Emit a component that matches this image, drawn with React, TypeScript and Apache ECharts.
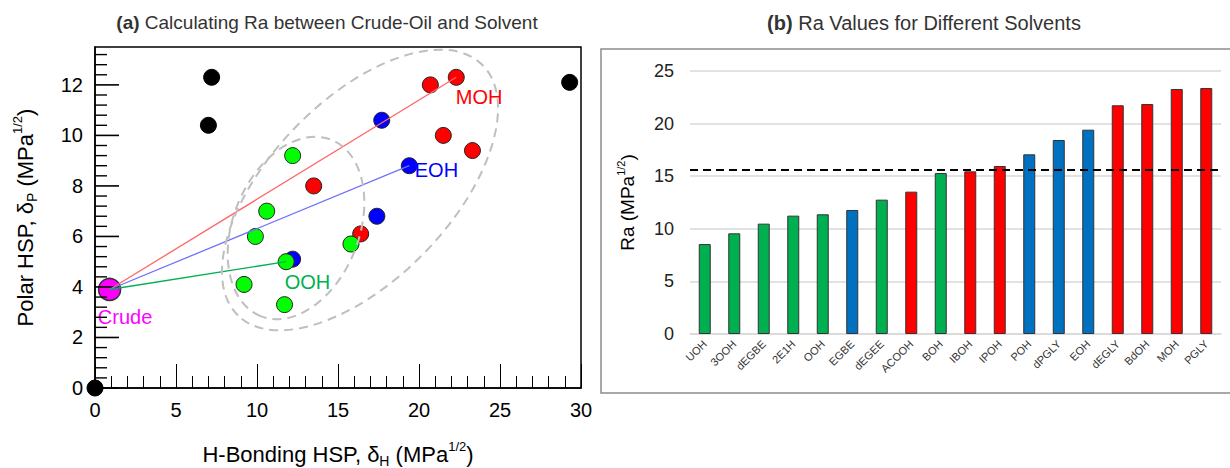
import React, { useEffect, useRef } from "react";
import * as echarts from "echarts";

// ---------- Data: panel (a) ----------
const crudePoint: number[] = [0.9, 3.9];
const blackPoints: number[][] = [[0, 0], [7.2, 12.3], [7.0, 10.4], [29.3, 12.1]];
const redPoints: number[][] = [[20.7, 12.0], [22.3, 12.3], [21.5, 10.0], [23.3, 9.4], [13.5, 8.0], [16.4, 6.1]];
const bluePoints: number[][] = [[17.7, 10.6], [19.4, 8.8], [17.4, 6.8], [12.2, 5.1]];
const greenPoints: number[][] = [[12.2, 9.2], [10.6, 7.0], [9.9, 6.0], [11.8, 5.0], [9.2, 4.1], [11.7, 3.3], [15.8, 5.7]];
const mohIndex = 1; // in redPoints
const eohIndex = 1; // in bluePoints
const oohIndex = 3; // in greenPoints
const polarMax = 13.5;
const polarMajorTicks: number[] = [0, 2, 4, 6, 8, 10, 12];
const polarMinorStep = 0.4;

// ---------- Data: panel (b) ----------
const solvents: string[] = ["UOH", "3OOH", "dEGBE", "2E1H", "OOH", "EGBE", "dEGEE", "ACOOH", "BOH", "IBOH", "IPOH", "POH", "dPGLY", "EOH", "dEGLY", "BdOH", "MOH", "PGLY"];
const raValues: number[] = [8.55, 9.57, 10.49, 11.25, 11.38, 11.79, 12.77, 13.53, 15.3, 15.46, 15.97, 17.08, 18.44, 19.42, 21.74, 21.86, 23.29, 23.38];
const solventGroup: string[] = ["G", "G", "G", "G", "G", "B", "G", "R", "G", "R", "R", "B", "B", "B", "R", "R", "R", "R"];
const raThreshold = 15.6;

const FONT = "Liberation Sans, Arial, Helvetica, sans-serif";
const groupColor: Record<string, string> = { G: "#00b050", B: "#0070c0", R: "#ff0000" };

export default function App() {
  const ref = useRef<HTMLDivElement>(null);
  useEffect(() => {
    if (!ref.current) return;
    const chart = echarts.init(ref.current, undefined, { renderer: "svg" });

    const pointLabel = (text: string, color: string, pos: number[]) => ({
      show: true,
      formatter: text,
      position: pos,
      color,
      fontSize: 20,
      fontFamily: FONT,
      align: "left",
      verticalAlign: "top",
    });

    const redData = redPoints.map((p, i) =>
      i === mohIndex ? { value: p, label: pointLabel("MOH", "#ff0000", [8, 18]) } : { value: p }
    );
    const blueData = bluePoints.map((p, i) =>
      i === eohIndex ? { value: p, label: pointLabel("EOH", "#0000ff", [14, 3]) } : { value: p }
    );
    const greenData = greenPoints.map((p, i) =>
      i === oohIndex ? { value: p, label: pointLabel("OOH", "#00b050", [7, 19]) } : { value: p }
    );

    // tick marks of the polar axis, positioned by the y axis scale
    const majorTickData: number[][] = polarMajorTicks.map((v) => [0, v]);
    const minorTickData: number[][] = [];
    const nMinor = Math.floor(polarMax / polarMinorStep + 1e-9);
    for (let k = 1; k <= nMinor; k++) {
      const v = Math.round(k * polarMinorStep * 10) / 10;
      if (!polarMajorTicks.includes(v)) minorTickData.push([0, v]);
    }

    const subSupRich = (size: number) => ({
      t: { fontSize: size, fontFamily: FONT, color: "#000", lineHeight: size + 6 },
      sub: { fontSize: Math.round(size * 0.62), fontFamily: FONT, color: "#000", verticalAlign: "bottom", lineHeight: size + 6 },
      sup: { fontSize: Math.round(size * 0.6), fontFamily: FONT, color: "#000", verticalAlign: "top", lineHeight: size + 6 },
    });

    const scatterBase = {
      type: "scatter",
      xAxisIndex: 0,
      yAxisIndex: 0,
      symbolSize: 16,
      clip: false,
      label: { show: false },
    };

    chart.setOption({
      animation: false,
      textStyle: { fontFamily: FONT },
      title: [
        {
          text: "{b|(a)} Calculating Ra between Crude-Oil and Solvent",
          left: 322,
          top: 8,
          textAlign: "center",
          textStyle: {
            fontSize: 19,
            fontWeight: "normal",
            color: "#333",
            fontFamily: FONT,
            rich: { b: { fontSize: 19, fontWeight: "bold", color: "#333", fontFamily: FONT } },
          },
        },
        {
          text: "{b|(b)} Ra Values for Different Solvents",
          left: 919,
          top: 8,
          textAlign: "center",
          textStyle: {
            fontSize: 20,
            fontWeight: "normal",
            color: "#333",
            fontFamily: FONT,
            rich: { b: { fontSize: 20, fontWeight: "bold", color: "#333", fontFamily: FONT } },
          },
        },
      ],
      grid: [
        {
          left: 95, right: 649, top: 47, bottom: 80,
          show: true, borderColor: "#000", borderWidth: 1.5, backgroundColor: "transparent",
          containLabel: false, outerBoundsMode: "none",
        },
        { left: 690, right: 9, top: 71, bottom: 134, containLabel: false, outerBoundsMode: "none" },
      ],
      xAxis: [
        {
          type: "value",
          gridIndex: 0,
          min: 0,
          max: 30,
          interval: 5,
          name: "{t|H-Bonding HSP, δ}{sub|H}{t| (MPa}{sup|1/2}{t|)}",
          nameLocation: "middle",
          nameGap: 52,
          nameTextStyle: { rich: subSupRich(22) },
          axisLine: { show: true, onZero: false, lineStyle: { color: "#000", width: 1.5 } },
          axisTick: { show: true, inside: true, length: 24, lineStyle: { color: "#000", width: 1 } },
          minorTick: { show: true, splitNumber: 5, length: 12, lineStyle: { color: "#000", width: 1 } },
          axisLabel: { fontSize: 20, color: "#000", margin: 12, fontFamily: FONT },
          splitLine: { show: false },
        },
        {
          type: "category",
          gridIndex: 1,
          data: solvents,
          axisLine: { show: true, lineStyle: { color: "#d9d9d9", width: 1.5 } },
          axisTick: { show: false },
          axisLabel: { rotate: 45, fontSize: 11, color: "#333", margin: 8, fontFamily: FONT, interval: 0 },
        },
      ],
      yAxis: [
        {
          type: "value",
          gridIndex: 0,
          position: "left",
          min: 0,
          max: polarMax,
          interval: 2,
          name: "{t|Polar HSP, δ}{sub|P}{t| (MPa}{sup|1/2}{t|)}",
          nameLocation: "middle",
          nameRotate: 90,
          nameGap: 56,
          nameTextStyle: { rich: subSupRich(22) },
          axisLine: { show: true, onZero: false, lineStyle: { color: "#000", width: 1.5 } },
          axisTick: { show: false },
          minorTick: { show: false },
          axisLabel: {
            fontSize: 20,
            color: "#000",
            margin: 12,
            fontFamily: FONT,
            formatter: (v: number) => (v === polarMax ? "" : String(v)),
          },
          splitLine: { show: false },
        },
        {
          type: "value",
          gridIndex: 1,
          position: "left",
          min: 0,
          max: 25,
          interval: 5,
          name: "{t|Ra (MPa}{sup|1/2}{t|)}",
          nameLocation: "middle",
          nameRotate: 90,
          nameGap: 50,
          nameTextStyle: { rich: subSupRich(19) },
          axisLine: { show: false },
          axisTick: { show: false },
          axisLabel: { fontSize: 18, color: "#222", margin: 16, fontFamily: FONT },
          splitLine: { show: true, lineStyle: { color: "#d9d9d9", width: 1.5 } },
        },
      ],
      series: [
        {
          type: "scatter",
          name: "polarMajorTicks",
          xAxisIndex: 0,
          yAxisIndex: 0,
          clip: false,
          silent: true,
          symbol: "rect",
          symbolSize: [24, 1.6],
          symbolOffset: [12, 0],
          data: majorTickData,
          itemStyle: { color: "#000", opacity: 1 },
          z: 3,
        },
        {
          type: "scatter",
          name: "polarMinorTicks",
          xAxisIndex: 0,
          yAxisIndex: 0,
          clip: false,
          silent: true,
          symbol: "rect",
          symbolSize: [12, 1.4],
          symbolOffset: [6, 0],
          data: minorTickData,
          itemStyle: { color: "#000", opacity: 1 },
          z: 3,
        },
        { ...scatterBase, name: "other", data: blackPoints, itemStyle: { color: "#000", borderColor: "#000", borderWidth: 1, opacity: 1 } },
        { ...scatterBase, name: "red", data: redData, itemStyle: { color: "#ff0000", borderColor: "#222", borderWidth: 1, opacity: 1 } },
        { ...scatterBase, name: "blue", data: blueData, itemStyle: { color: "#0000ff", borderColor: "#222", borderWidth: 1, opacity: 1 } },
        { ...scatterBase, name: "green", data: greenData, itemStyle: { color: "#00ff00", borderColor: "#222", borderWidth: 1, opacity: 1 } },
        {
          ...scatterBase,
          name: "crude",
          symbolSize: 22,
          data: [{ value: crudePoint, label: pointLabel("Crude", "#ff00ff", [0, 29]) }],
          itemStyle: { color: "#ff00ff", borderColor: "#333", borderWidth: 1.5, opacity: 1 },
        },
        {
          type: "line",
          xAxisIndex: 0,
          yAxisIndex: 0,
          data: [crudePoint, redPoints[mohIndex]],
          showSymbol: false,
          lineStyle: { color: "#ff6666", width: 1.3 },
          z: 5,
        },
        {
          type: "line",
          xAxisIndex: 0,
          yAxisIndex: 0,
          data: [crudePoint, bluePoints[eohIndex]],
          showSymbol: false,
          lineStyle: { color: "#7070ff", width: 1.3 },
          z: 5,
        },
        {
          type: "line",
          xAxisIndex: 0,
          yAxisIndex: 0,
          data: [crudePoint, greenPoints[oohIndex]],
          showSymbol: false,
          lineStyle: { color: "#00b050", width: 1.3 },
          z: 5,
        },
        {
          type: "bar",
          xAxisIndex: 1,
          yAxisIndex: 1,
          barWidth: 12,
          data: raValues.map((v, i) => ({
            value: v,
            itemStyle: { color: groupColor[solventGroup[i]], borderColor: "#333", borderWidth: 1 },
          })),
          markLine: {
            silent: true,
            symbol: "none",
            label: { show: false },
            lineStyle: { color: "#000", type: [8, 5], width: 2 },
            data: [{ yAxis: raThreshold }],
          },
        },
      ],
      graphic: [
        {
          type: "ellipse",
          x: 360,
          y: 190,
          rotation: 0.8,
          shape: { cx: 0, cy: 0, rx: 175, ry: 90 },
          style: { fill: "none", stroke: "#bfbfbf", lineWidth: 2, lineDash: [9, 6] },
          z: 10,
        },
        {
          type: "ellipse",
          x: 296,
          y: 228,
          rotation: 1.19,
          shape: { cx: 0, cy: 0, rx: 95, ry: 63 },
          style: { fill: "none", stroke: "#bfbfbf", lineWidth: 2, lineDash: [9, 6] },
          z: 10,
        },
        {
          type: "rect",
          shape: { x: 601, y: 49, width: 640, height: 344 },
          style: { fill: "none", stroke: "#8c8c8c", lineWidth: 1.5 },
          z: -1,
        },
      ],
    });
    return () => chart.dispose();
  }, []);
  return <div ref={ref} style={{ position: "absolute", left: 0, top: 0, width: 1230, height: 468 }} />;
}
